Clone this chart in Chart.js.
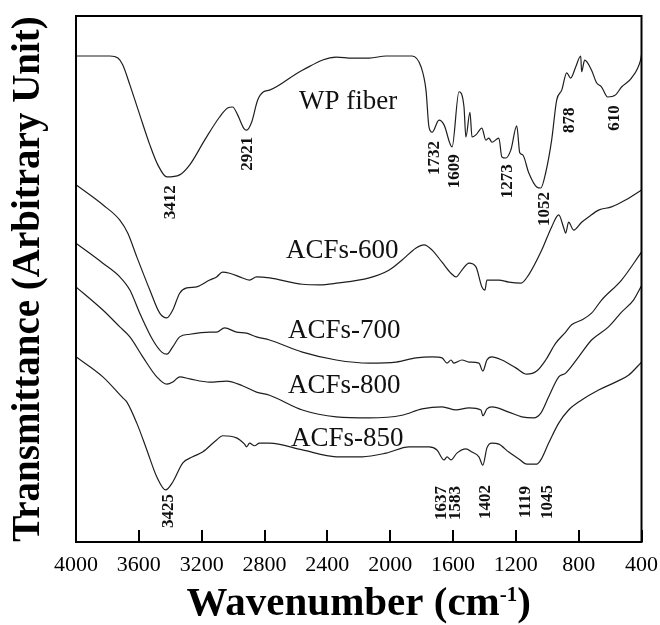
<!DOCTYPE html>
<html>
<head>
<meta charset="utf-8">
<script src="https://cdn.jsdelivr.net/npm/chart.js"></script>
<style>
  html, body { margin: 0; padding: 0; background: #fff; }
</style>
</head>
<body>
<canvas id="chart" width="660" height="625"></canvas>
<script>
// Spectra: [wavenumber cm-1, transmittance (arbitrary units)]
var wpFiber = [[4000,92.4],[3784,92.4],[3733,92.0],[3702,90.7],[3657,86.9],[3594,81.2],[3530,75.5],[3479,71.7],[3422,69.4],[3340,69.8],[3276,71.7],[3181,76.4],[3086,80.8],[3035,82.5],[3003,82.7],[2971,81.2],[2933,78.7],[2914,78.3],[2882,79.8],[2844,84.0],[2806,85.6],[2768,85.9],[2559,89.7],[2343,92.2],[2241,92.0],[2133,92.0],[2025,92.4],[1860,92.4],[1803,90.3],[1772,85.9],[1753,78.9],[1733,77.9],[1689,80.2],[1657,79.3],[1606,75.1],[1562,85.6],[1530,82.7],[1518,77.0],[1492,81.7],[1479,77.0],[1454,77.4],[1416,78.7],[1391,76.4],[1372,76.8],[1352,76.0],[1308,76.8],[1289,73.2],[1264,73.0],[1232,74.5],[1194,79.1],[1175,74.0],[1156,73.6],[1118,70.2],[1067,67.5],[1041,67.3],[1010,70.2],[972,76.4],[940,84.0],[908,85.9],[876,89.2],[851,88.2],[819,90.3],[787,92.4],[781,89.4],[762,91.6],[718,89.7],[686,87.3],[654,86.5],[616,84.6],[565,85.0],[527,86.5],[464,88.2],[406,91.6],[400,92.6]];
var acfs600 = [[4000,67.9],[3829,64.1],[3721,61.2],[3670,58.7],[3613,54.2],[3530,47.9],[3467,43.5],[3422,42.6],[3384,44.1],[3340,47.3],[3295,48.3],[3232,48.5],[3149,49.8],[3105,50.4],[3067,51.3],[3022,51.1],[2940,50.2],[2895,49.8],[2851,50.4],[2768,50.2],[2559,49.0],[2451,48.9],[2343,49.2],[2133,50.2],[2006,51.7],[1924,53.6],[1835,55.9],[1784,56.5],[1733,55.5],[1670,53.2],[1613,51.1],[1581,50.4],[1543,51.7],[1498,53.0],[1454,52.3],[1416,48.5],[1397,47.9],[1384,49.8],[1308,49.8],[1245,49.4],[1168,49.2],[1118,50.8],[1035,55.5],[972,59.9],[927,62.2],[895,59.7],[883,58.7],[864,60.8],[832,59.3],[781,60.8],[737,61.8],[673,63.1],[591,63.7],[502,65.0],[400,66.9]];
var acfs700 = [[4000,56.8],[3829,53.0],[3721,50.4],[3657,47.9],[3594,43.5],[3511,38.4],[3454,36.1],[3422,35.7],[3384,37.1],[3340,39.0],[3276,39.5],[3149,39.9],[3105,39.9],[3054,40.7],[2978,39.9],[2914,39.7],[2851,39.0],[2768,38.4],[2559,36.1],[2343,34.6],[2133,34.0],[1962,34.2],[1835,35.0],[1733,35.2],[1670,35.0],[1638,34.0],[1613,34.6],[1594,34.0],[1543,34.6],[1498,34.2],[1435,34.0],[1410,32.5],[1384,34.6],[1353,35.2],[1289,34.6],[1200,33.1],[1130,31.9],[1067,32.5],[1010,34.6],[946,37.8],[883,39.9],[845,41.3],[781,42.2],[718,43.5],[654,46.0],[527,49.8],[400,55.1]];
var acfs800 = [[4000,48.5],[3829,44.1],[3721,40.9],[3657,39.0],[3575,35.2],[3486,31.4],[3422,30.0],[3384,30.4],[3340,31.4],[3276,31.0],[3149,30.4],[3041,30.6],[2940,29.7],[2851,28.5],[2768,27.9],[2559,25.1],[2343,23.8],[2133,23.6],[1924,24.1],[1797,25.3],[1670,25.7],[1581,25.1],[1498,25.5],[1422,25.1],[1410,24.0],[1384,25.3],[1353,25.7],[1245,24.7],[1162,23.8],[1086,23.6],[1041,24.5],[991,27.6],[927,31.4],[883,32.1],[800,35.2],[718,38.4],[610,40.9],[527,43.7],[451,46.0],[400,48.7]];
var acfs850 = [[4000,35.2],[3829,31.4],[3702,27.4],[3676,26.6],[3613,22.6],[3549,17.5],[3486,12.4],[3429,9.9],[3384,11.4],[3321,15.0],[3257,16.2],[3194,17.1],[3105,19.4],[3067,20.2],[2978,19.8],[2927,18.6],[2914,18.1],[2895,18.8],[2864,18.3],[2832,18.8],[2768,18.8],[2559,17.5],[2343,16.2],[2178,16.2],[2026,16.9],[1879,18.1],[1752,18.1],[1702,17.5],[1657,15.6],[1638,16.2],[1613,15.6],[1575,16.9],[1518,17.7],[1479,17.1],[1435,16.2],[1410,14.6],[1384,17.9],[1353,18.8],[1308,18.6],[1245,17.1],[1181,15.8],[1130,14.8],[1067,14.8],[1041,15.6],[991,18.8],[927,22.6],[864,25.1],[781,27.0],[673,28.9],[565,30.4],[483,31.7],[400,34.2]];

var seriesNames = ['WP fiber', 'ACFs-600', 'ACFs-700', 'ACFs-800', 'ACFs-850'];
// where each curve name sits (wavenumber, level)
var nameAnchors = [[2267,83.7],[2305,55.3],[2292,40.1],[2292,29.7],[2273,19.6]];
// peak labels: text, wavenumber, level
var peakLabels = [
  ['3412',3397,64.6],['2921',2908,73.8],['1732',1714,73.0],['1609',1587,70.5],
  ['1273',1251,68.6],['1052',1016,63.3],['878',857,80.2],['610',572,80.6],
  ['3425',3410,5.9],['1637',1670,7.4],['1583',1581,7.4],['1402',1391,7.6],
  ['1119',1137,7.6],['1045',997,7.6]
];
var xTicks = [4000, 3600, 3200, 2800, 2400, 2000, 1600, 1200, 800, 400];

var serif = '"Liberation Serif", "Times New Roman", serif';

// frame, inner ticks, labels and x title
var decorPlugin = {
  id: 'decor',
  afterDraw: function(chart) {
    var ctx = chart.ctx, a = chart.chartArea;
    var xs = chart.scales.x, ys = chart.scales.y;
    ctx.save();
    ctx.strokeStyle = '#000';
    ctx.lineWidth = 2;
    ctx.strokeRect(a.left, a.top, a.right - a.left, a.bottom - a.top);
    xTicks.forEach(function(v) {
      var px = Math.round(xs.getPixelForValue(v));
      ctx.beginPath();
      ctx.moveTo(px, a.bottom);
      ctx.lineTo(px, a.bottom - 12);
      ctx.stroke();
    });

    ctx.fillStyle = '#111';
    ctx.textAlign = 'center';
    ctx.textBaseline = 'middle';
    ctx.font = '27px ' + serif;
    seriesNames.forEach(function(n, i) {
      ctx.fillText(n, xs.getPixelForValue(nameAnchors[i][0]), ys.getPixelForValue(nameAnchors[i][1]));
    });

    ctx.font = 'bold 17px ' + serif;
    peakLabels.forEach(function(p) {
      ctx.save();
      ctx.translate(xs.getPixelForValue(p[1]), ys.getPixelForValue(p[2]));
      ctx.rotate(-Math.PI / 2);
      ctx.fillText(p[0], 0, 0);
      ctx.restore();
    });

    // x title with superscript -1
    ctx.fillStyle = '#000';
    ctx.textAlign = 'left';
    ctx.textBaseline = 'alphabetic';
    var mainFont = 'bold 41px ' + serif, supFont = 'bold 21px ' + serif;
    ctx.font = mainFont;
    var w1 = ctx.measureText('Wavenumber (cm').width;
    var w3 = ctx.measureText(')').width;
    ctx.font = supFont;
    var w2 = ctx.measureText('-1').width;
    var x0 = (a.left + a.right) / 2 - (w1 + w2 + w3) / 2;
    var base = 615;
    ctx.font = mainFont;
    ctx.fillText('Wavenumber (cm', x0, base);
    ctx.font = supFont;
    ctx.fillText('-1', x0 + w1, base - 14);
    ctx.font = mainFont;
    ctx.fillText(')', x0 + w1 + w2, base);
    ctx.restore();
  }
};

var allSeries = [wpFiber, acfs600, acfs700, acfs800, acfs850];
var datasets = allSeries.map(function(s, i) {
  return {
    label: seriesNames[i],
    data: s.map(function(p) { return { x: p[0], y: p[1] }; }),
    borderColor: '#1e1e1e',
    borderWidth: 1.2,
    pointRadius: 0,
    fill: false,
    cubicInterpolationMode: 'monotone'
  };
});

var ctx = document.getElementById('chart').getContext('2d');
var chart = new Chart(ctx, {
  type: 'line',
  data: { datasets: datasets },
  options: {
    responsive: false,
    animation: false,
    devicePixelRatio: 1,
    layout: { padding: { top: 16, right: 9, left: 0, bottom: 0 } },
    plugins: {
      legend: { display: false },
      tooltip: { enabled: false }
    },
    scales: {
      x: {
        type: 'linear',
        reverse: true,
        min: 400,
        max: 4000,
        grid: { display: false },
        border: { display: false },
        afterBuildTicks: function(axis) {
          axis.ticks = xTicks.map(function(v) { return { value: v }; });
        },
        ticks: {
          autoSkip: false,
          maxRotation: 0,
          padding: 2,
          color: '#000',
          font: { family: serif, size: 22 },
          callback: function(v) { return String(v); }
        },
        afterFit: function(s) { s.height = 83; }
      },
      y: {
        min: 0,
        max: 100,
        grid: { display: false },
        border: { display: false },
        ticks: { display: false },
        title: {
          display: true,
          text: 'Transmittance (Arbitrary Unit)',
          color: '#000',
          font: { family: serif, size: 39, weight: 'bold' },
          padding: { top: 6, bottom: 0 }
        },
        afterFit: function(s) { s.width = 76; }
      }
    }
  },
  plugins: [decorPlugin]
});
</script>
</body>
</html>
